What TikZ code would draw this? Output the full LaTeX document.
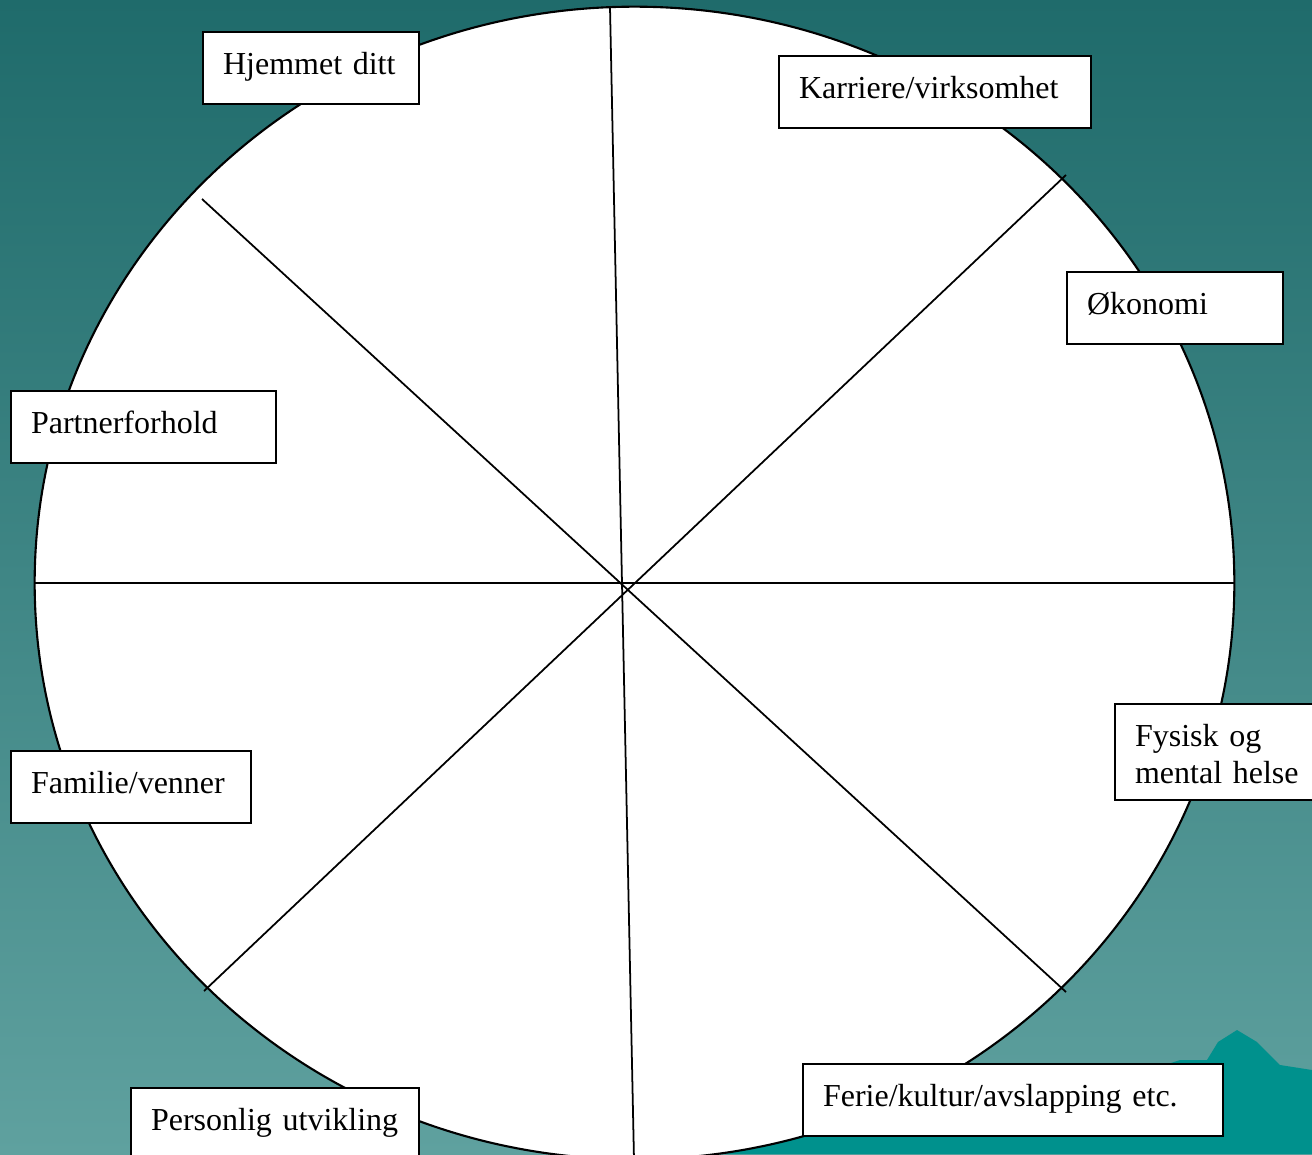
\documentclass[tikz,border=0pt]{standalone}
\usepackage{fontspec}
\setmainfont{Liberation Serif}
\definecolor{bgtop}{RGB}{31,107,107}
\definecolor{bgbot}{RGB}{95,161,159}
\definecolor{peak}{RGB}{0,145,141}
\tikzset{lbl/.style={rectangle,draw,fill=white,line width=0.6pt,anchor=north west,
  inner xsep=0.2cm,inner ysep=0pt,text height=0.42cm,text depth=0.30cm,
  align=left,text width=#1,font=\fontsize{9.1pt}{10.5pt}\selectfont}}
\begin{document}
\begin{tikzpicture}[x=0.01cm,y=-0.01cm]
        \useasboundingbox (0,0) rectangle (1312,1154);
        \shade[top color=bgtop,bottom color=bgbot] (0,0) rectangle (1312,1154);
        \fill[peak] (725,1154) -- (760,1120) -- (900,1090) -- (1150,1070) -- (1180,1060) -- (1207,1060)
          -- (1218,1042) -- (1237,1030) -- (1257,1042) -- (1280,1065) -- (1312,1070) -- (1312,1154) -- cycle;
        \draw[line width=0.6pt,fill=white] (634.5,583) ellipse [x radius=5.995cm,y radius=5.76cm];
        \coordinate(n)at(610,7);\coordinate(s)at(634,1160);
        \coordinate(w)at(35,583);\coordinate(e)at(1234,583);
        \coordinate(nw)at(202,199);\coordinate(se)at(1066,992);
        \coordinate(ne)at(1066,175);\coordinate(sw)at(204,991);
        \draw[line width=0.5pt] (n) -- (s) (w) -- (e) (nw) -- (se) (ne) -- (sw);
        \node[lbl=1.76cm] (home) at (202,31) {Hjemmet ditt};
        \node[lbl=2.72cm] (career) at (778,55) {Karriere/virksomhet};
        \node[lbl=1.76cm] (money) at (1066,271) {Økonomi};
        \node[lbl=2.25cm] (partner) at (10,390) {Partnerforhold};
        \node[lbl=2.00cm] (friends) at (10,750) {Familie/venner};
        \node[lbl=2.20cm,text depth=0.54cm] (health) at (1114,703) {Fysisk og\\mental helse};
        \node[lbl=2.48cm,text depth=0.8cm] (growth) at (130,1087) {Personlig utvikling};
        \node[lbl=3.80cm] (leisure) at (802,1063) {Ferie/kultur/avslapping etc.};
      \end{tikzpicture}
\end{document}
